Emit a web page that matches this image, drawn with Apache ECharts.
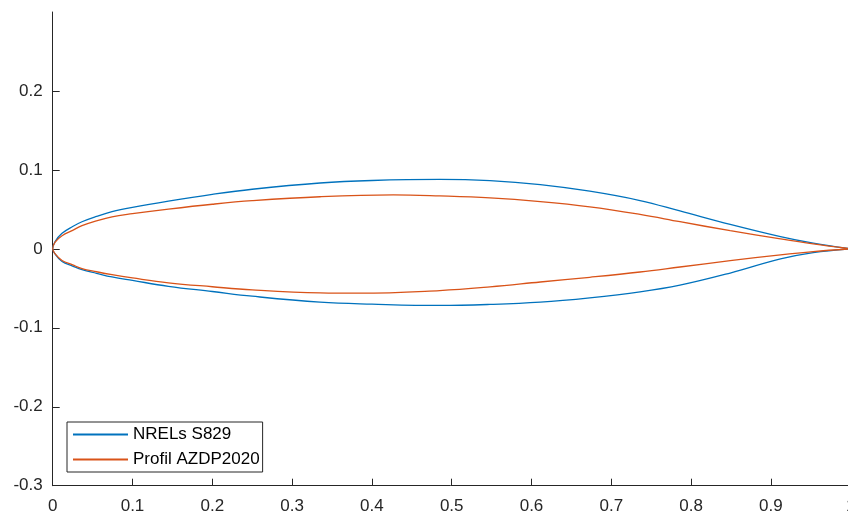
<!DOCTYPE html>
<html>
<head>
<meta charset="utf-8">
<script src="https://cdn.jsdelivr.net/npm/echarts@6/dist/echarts.min.js"></script>
<style>
html,body{margin:0;padding:0;background:#fff;overflow:hidden;}
#chart{width:848px;height:516px;}
</style>
</head>
<body>
<div id="chart"></div>
<script>
// Series names
var seriesNames = ['NRELs S829', 'Profil AZDP2020'];

// NRELs S829 - upper surface (x, y)
var s829UpperX = [0, 0.003, 0.0117, 0.025, 0.0367, 0.055, 0.0743, 0.10, 0.145, 0.20, 0.25, 0.335, 0.40, 0.485, 0.548, 0.611, 0.673, 0.736, 0.786, 0.849, 0.912, 0.953, 1.0];
var s829UpperY = [0, 0.0092, 0.0197, 0.0283, 0.0343, 0.041, 0.047, 0.0525, 0.0604, 0.069, 0.0755, 0.0834, 0.0866, 0.088, 0.0864, 0.0814, 0.073, 0.0612, 0.048, 0.031, 0.0155, 0.0072, 0];
// NRELs S829 - lower surface
var s829LowerX = [0, 0.003, 0.0117, 0.025, 0.0367, 0.055, 0.0743, 0.10, 0.145, 0.20, 0.25, 0.335, 0.40, 0.485, 0.548, 0.611, 0.673, 0.736, 0.786, 0.849, 0.912, 0.953, 1.0];
var s829LowerY = [0, -0.0065, -0.016, -0.0218, -0.0264, -0.031, -0.0356, -0.040, -0.0474, -0.054, -0.060, -0.0675, -0.070, -0.0717, -0.0704, -0.0675, -0.062, -0.0545, -0.046, -0.0306, -0.0128, -0.0048, 0];

// Profil AZDP2020 - upper surface
var azdpUpperX = [0, 0.003, 0.0117, 0.025, 0.0367, 0.055, 0.0743, 0.10, 0.145, 0.20, 0.25, 0.335, 0.427, 0.485, 0.548, 0.611, 0.673, 0.736, 0.786, 0.849, 0.912, 0.953, 1.0];
var azdpUpperY = [0, 0.0085, 0.0167, 0.0235, 0.0293, 0.0355, 0.0406, 0.0445, 0.0503, 0.0565, 0.061, 0.066, 0.0683, 0.067, 0.0645, 0.0598, 0.0532, 0.0436, 0.0344, 0.023, 0.0126, 0.0063, 0];
// Profil AZDP2020 - lower surface
var azdpLowerX = [0, 0.003, 0.0117, 0.025, 0.0367, 0.055, 0.0743, 0.10, 0.145, 0.20, 0.25, 0.335, 0.385, 0.485, 0.548, 0.611, 0.673, 0.736, 0.786, 0.849, 0.912, 0.953, 1.0];
var azdpLowerY = [0, -0.0062, -0.0147, -0.0203, -0.025, -0.029, -0.0327, -0.0368, -0.043, -0.048, -0.052, -0.0558, -0.0562, -0.0528, -0.0482, -0.042, -0.036, -0.0293, -0.023, -0.015, -0.0075, -0.0034, 0];

// Axis ticks
var xTicks = [0, 0.1, 0.2, 0.3, 0.4, 0.5, 0.6, 0.7, 0.8, 0.9, 1];
var yTicks = [-0.3, -0.2, -0.1, 0, 0.1, 0.2, 0.3];

function contour(ux, uy, lx, ly) {
  var pts = [];
  for (var i = ux.length - 1; i >= 0; i--) pts.push([ux[i], uy[i]]);
  for (var j = 1; j < lx.length; j++) pts.push([lx[j], ly[j]]);
  return pts;
}

var axisColor = '#262626';
var font = 'Liberation Sans, Arial, sans-serif';

var chart = echarts.init(document.getElementById('chart'), null, {renderer: 'canvas'});
chart.setOption({
  animation: false,
  backgroundColor: '#ffffff',
  grid: {left: 52.7, top: 12, width: 798, height: 473.7, containLabel: false, outerBoundsMode: 'none'},
  xAxis: {
    type: 'value', min: xTicks[0], max: xTicks[xTicks.length - 1], interval: 0.1,
    axisLine: {show: true, onZero: false, lineStyle: {color: axisColor, width: 1}},
    axisTick: {show: true, inside: true, length: 7, lineStyle: {color: axisColor}},
    axisLabel: {color: axisColor, fontSize: 17, fontFamily: font, margin: 12, hideOverlap: false,
      formatter: function (v) { return String(Math.round(v * 10) / 10); }},
    splitLine: {show: false}
  },
  yAxis: {
    type: 'value', min: yTicks[0], max: yTicks[yTicks.length - 1], interval: 0.1,
    axisLine: {show: true, onZero: false, lineStyle: {color: axisColor, width: 1}},
    axisTick: {show: true, inside: true, length: 7, lineStyle: {color: axisColor}},
    axisLabel: {color: axisColor, fontSize: 17, fontFamily: font, margin: 10, showMaxLabel: false,
      formatter: function (v) { return String(Math.round(v * 10) / 10); }},
    splitLine: {show: false}
  },
  legend: {
    orient: 'vertical', left: 67, top: 422,
    padding: [4, 3, 4, 5], itemGap: 8, itemWidth: 55, itemHeight: 17,
    backgroundColor: '#ffffff', borderColor: axisColor, borderWidth: 1,
    itemStyle: {opacity: 0},
    textStyle: {color: '#000000', fontSize: 17, fontFamily: font},
    data: seriesNames
  },
  series: [
    {
      name: seriesNames[0], type: 'line', symbol: 'none', smooth: 0.4,
      lineStyle: {color: '#0072BD', width: 1.3}, itemStyle: {color: '#0072BD'},
      data: contour(s829UpperX, s829UpperY, s829LowerX, s829LowerY)
    },
    {
      name: seriesNames[1], type: 'line', symbol: 'none', smooth: 0.4,
      lineStyle: {color: '#D95319', width: 1.3}, itemStyle: {color: '#D95319'},
      data: contour(azdpUpperX, azdpUpperY, azdpLowerX, azdpLowerY)
    }
  ]
});
</script>
</body>
</html>
